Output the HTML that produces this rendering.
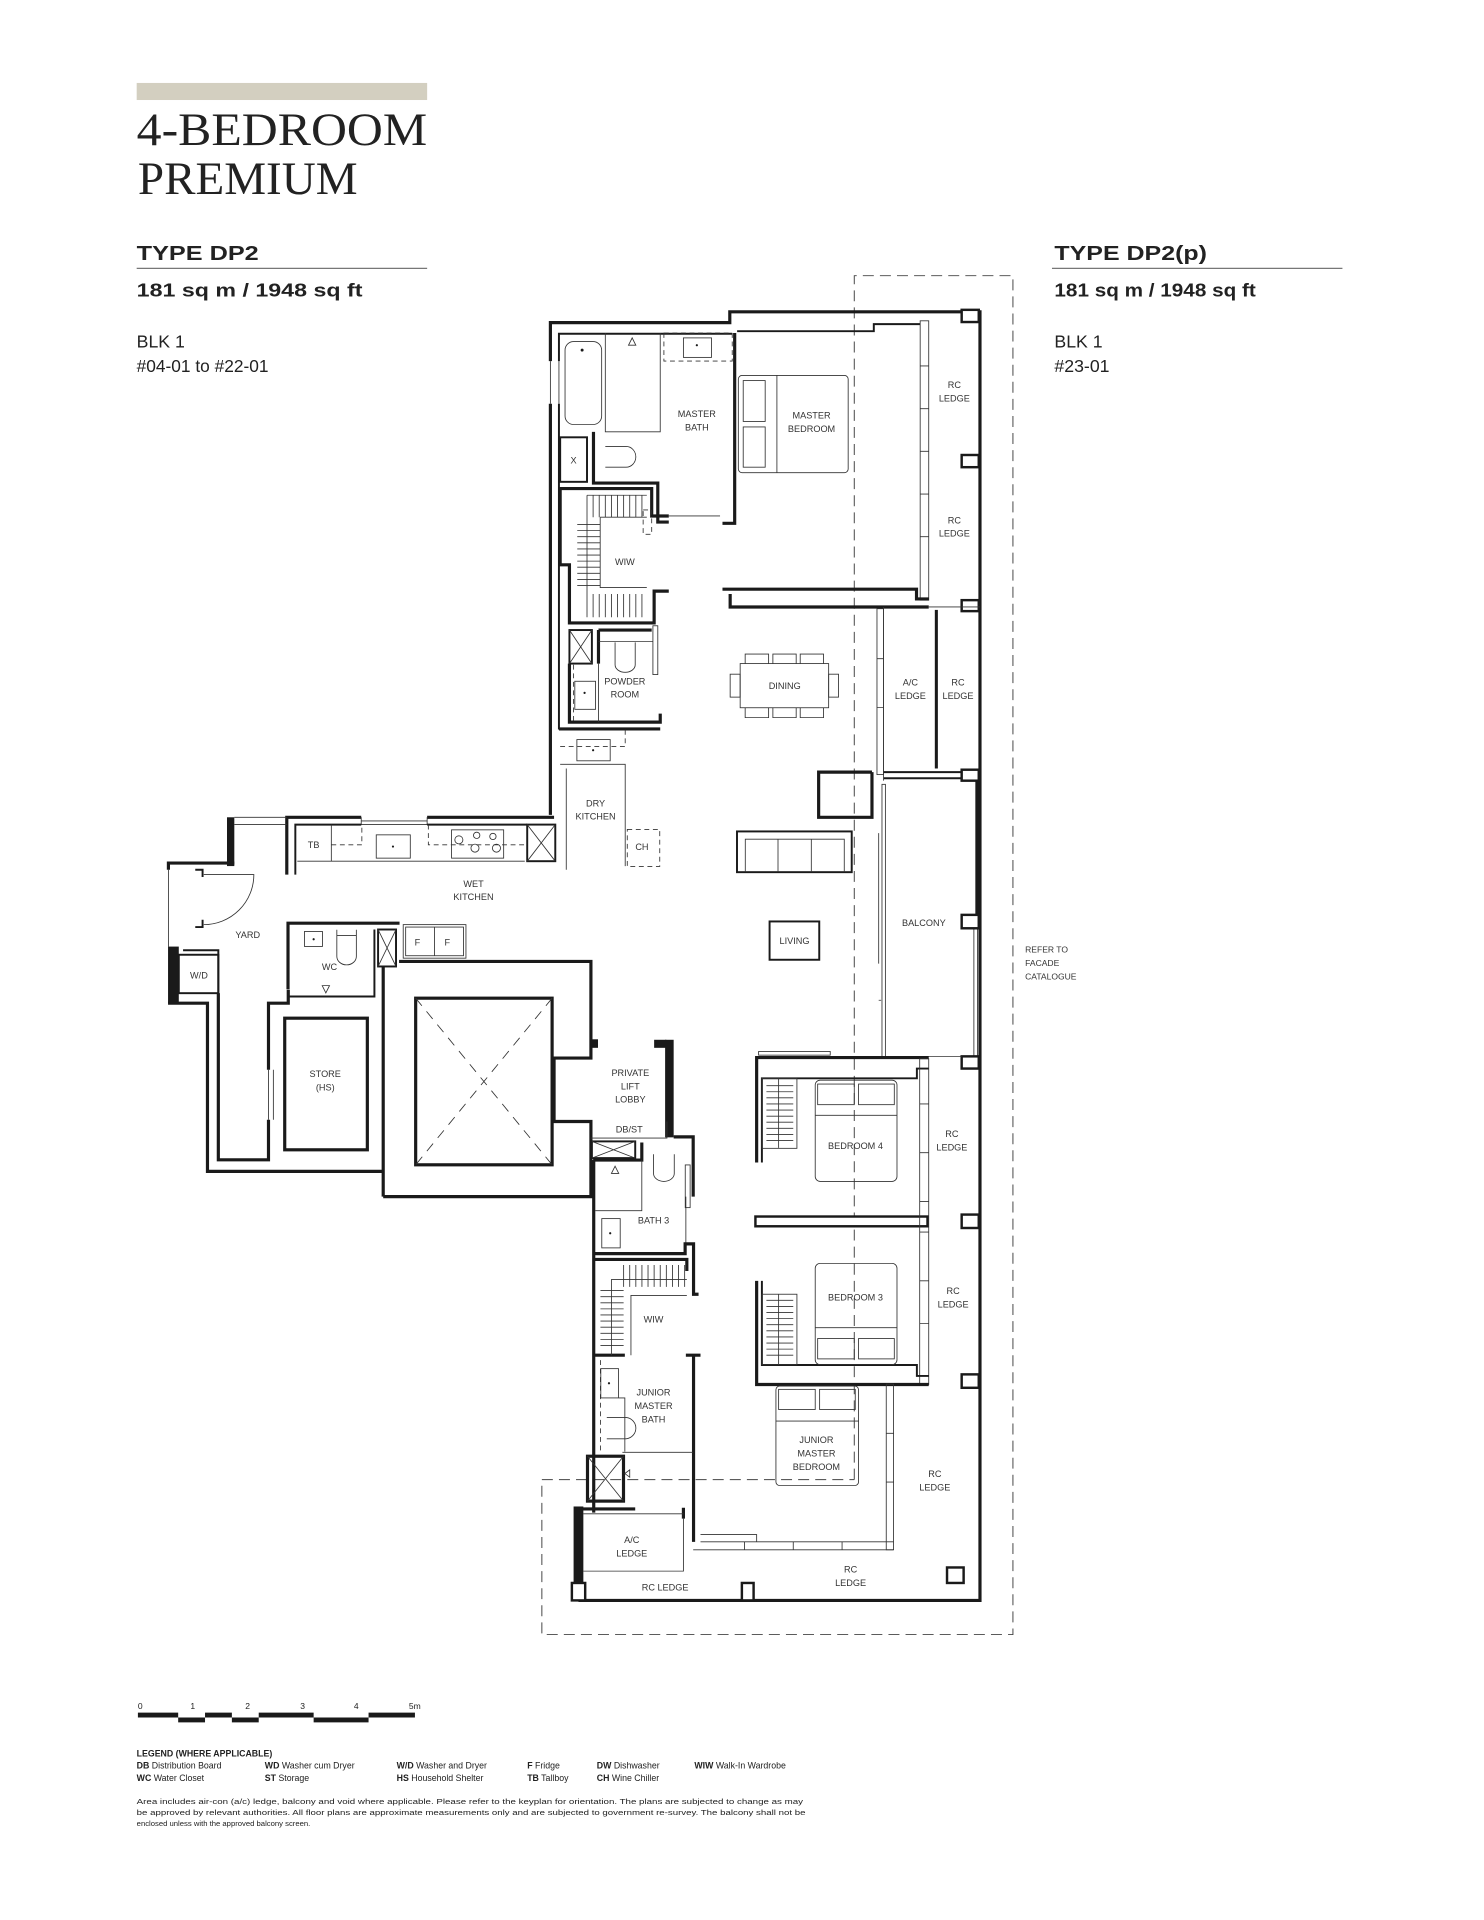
<!DOCTYPE html>
<html><head><meta charset="utf-8"><style>
html,body{margin:0;padding:0;background:#fff}
svg{display:block}
text{font-family:"Liberation Sans",sans-serif;fill:#222}
.w{fill:none;stroke:#1a1a1a;stroke-width:2.6}
.m{fill:none;stroke:#1a1a1a;stroke-width:1.6}
.t{fill:none;stroke:#333;stroke-width:0.7}
.d{fill:none;stroke:#333;stroke-width:0.7;stroke-dasharray:4 3}
.dd{fill:none;stroke:#444;stroke-width:0.8;stroke-dasharray:9 5}
.f{fill:#1a1a1a}
.wb{fill:#fff;stroke:#1a1a1a;stroke-width:2}
.l{font-size:7.5px;text-anchor:middle;fill:#333}
</style></head><body>
<svg width="1484" height="1920" viewBox="0 0 1216 1574" preserveAspectRatio="none" xmlns="http://www.w3.org/2000/svg">
<rect x="0" y="0" width="1216" height="1574" fill="#fff"/>
<!-- header -->
<rect x="112" y="68" width="238" height="14" fill="#d3cfc0"/>
<text x="112" y="119" style="font-family:'Liberation Serif',serif;font-size:38px;fill:#222" textLength="238" lengthAdjust="spacingAndGlyphs">4-BEDROOM</text>
<text x="113" y="159" style="font-family:'Liberation Serif',serif;font-size:38px;fill:#222" textLength="180" lengthAdjust="spacingAndGlyphs">PREMIUM</text>
<text x="112" y="213" style="font-size:17px;font-weight:bold" textLength="100" lengthAdjust="spacingAndGlyphs">TYPE DP2</text>
<line x1="112" y1="220" x2="350" y2="220" stroke="#777" stroke-width="1"/>
<text x="112" y="243" style="font-size:15px;font-weight:bold" textLength="185" lengthAdjust="spacingAndGlyphs">181 sq m / 1948 sq ft</text>
<text x="112" y="285" style="font-size:14.5px">BLK 1</text>
<text x="112" y="305" style="font-size:14.5px" textLength="108" lengthAdjust="spacingAndGlyphs">#04-01 to #22-01</text>
<text x="864" y="213" style="font-size:17px;font-weight:bold" textLength="125" lengthAdjust="spacingAndGlyphs">TYPE DP2(p)</text>
<line x1="862" y1="220" x2="1100" y2="220" stroke="#777" stroke-width="1"/>
<text x="864" y="243" style="font-size:15px;font-weight:bold" textLength="165" lengthAdjust="spacingAndGlyphs">181 sq m / 1948 sq ft</text>
<text x="864" y="285" style="font-size:14.5px">BLK 1</text>
<text x="864" y="305" style="font-size:14.5px">#23-01</text>

<!-- dashed outline -->
<path class="dd" d="M700 1213 V226 H830 V1340 H444 V1213 H700"/>

<!-- UPPER BLOCK outer -->
<path class="w" d="M451 296 V264.5 H598 V255.6 H803 V1312 H474"/>
<path class="w" d="M451 331 V668"/>
<path class="t" d="M451 296 V331 M458 296 V331"/>
<path class="m" d="M458 296 V273.6 H600 M458 331 V598"/>
<path class="m" d="M604 271.5 H716 V265.7 H754"/>
<rect x="788" y="254" width="14" height="10" class="wb"/>
<rect x="788" y="373" width="14" height="10" class="wb"/>
<rect x="788" y="492" width="14" height="9" class="wb"/>
<!-- window column -->
<rect x="754" y="263" width="7" height="229" class="t"/>
<path class="t" d="M754 300h7M754 335h7M754 370h7M754 405h7M754 440h7"/>
<text class="l" x="782" y="318">RC</text><text class="l" x="782" y="329">LEDGE</text>
<text class="l" x="782" y="429">RC</text><text class="l" x="782" y="440">LEDGE</text>

<!-- master bath -->
<rect x="463" y="280" width="30" height="68" rx="7" class="t"/>
<circle cx="477" cy="287" r="1.2" class="f"/>
<path class="t" d="M496 273 V354 H541 V273"/>
<path class="t" d="M515 283 l3 -6 l3 6 z"/>
<rect x="544" y="273" width="56" height="23" class="d"/>
<rect x="560" y="277" width="23" height="16" class="t"/>
<circle cx="571" cy="283" r="0.9" class="f"/>
<path class="t" d="M496 366 H513 a8 8.5 0 0 1 0 17 H496"/>
<rect x="459" y="358.5" width="22" height="36.5" class="m"/>
<text class="l" x="470" y="380">X</text>
<path class="w" d="M486.3 354 V396 H539 V428 H548"/>
<path class="t" d="M548 423 H590"/>
<path class="w" d="M602 273 V429 H592"/>
<text class="l" x="571" y="342">MASTER</text><text class="l" x="571" y="353">BATH</text>
<!-- master bed -->
<rect x="605" y="307.8" width="90" height="79.7" rx="3" class="t"/>
<rect x="609" y="312" width="18" height="33.5" class="t"/>
<rect x="609" y="350" width="18" height="33" class="t"/>
<path class="t" d="M636.6 307.8 V387.5"/>
<text class="l" x="665" y="343">MASTER</text><text class="l" x="665" y="354">BEDROOM</text>

<!-- WIW 1 -->
<path class="w" d="M548 423 H534 V400.5 H459 V463 H466.6 V510.7 H536 V484.6 H548"/>
<path class="t" d="M481 406 V506 M481 406 H530 M491.8 424 V481.7 H530 M491.8 424 H530"/>
<path class="t" d="M486 406v18M491 406v18M496 406v18M501 406v18M506 406v18M511 406v18M516 406v18M521 406v18M526 406v18M486 487v19M491 487v19M496 487v19M501 487v19M506 487v19M511 487v19M516 487v19M521 487v19M526 487v19M473 430h19M473 435h19M473 440h19M473 445h19M473 450h19M473 455h19M473 460h19M473 465h19M473 470h19M473 475h19M473 480h19"/>
<rect x="527" y="418" width="7" height="20" class="d"/>
<text class="l" x="512" y="463">WIW</text>

<!-- divider master bed / living -->
<path class="w" d="M592 483 H751 V491 H761"/>
<path class="w" d="M598.3 487 V497.6 H761"/>

<!-- powder room -->
<rect x="466.6" y="516.5" width="18.4" height="27.5" class="m"/>
<path class="t" d="M466.6 516.5 L485 544 M485 516.5 L466.6 544"/>
<path class="w" d="M466.6 544 V592 H541 V585 M490.4 516.5 H534 M490.4 516.5 V544"/>
<path class="t" d="M490.4 544 V592 M490.4 526 H535"/>
<rect x="535" y="513" width="4" height="40" class="t"/>
<path class="t" d="M504 526.6 V545 a8 6 0 0 0 16.5 0 V526.6"/>
<rect x="471" y="558.5" width="17" height="23" class="t"/><circle cx="479" cy="568" r="0.9" class="f"/>
<path class="d" d="M470 545 V592"/>
<text class="l" x="512" y="561">POWDER</text><text class="l" x="512" y="572">ROOM</text>

<!-- dining -->
<rect x="606.5" y="544" width="72.5" height="36.2" class="t"/>
<path class="t" d="M610.6 544 V536.2 H629.8 V544 M633.3 544 V536.2 H652.4 V544 M655.7 544 V536.2 H674.8 V544 M610.6 580.2 V588.3 H629.8 V580.2 M633.3 580.2 V588.3 H652.4 V580.2 M655.7 580.2 V588.3 H674.8 V580.2"/>
<rect x="598.3" y="552.7" width="8.2" height="18.8" class="t"/>
<rect x="679" y="552.7" width="8.1" height="18.8" class="t"/>
<text class="l" x="643" y="565">DINING</text>

<!-- A/C ledge RC ledge mid -->
<rect x="718.6" y="499" width="5.4" height="136" class="t"/>
<path class="t" d="M718.6 540h5.4M718.6 580h5.4 M724 497.6 V640 M761 497.6 H803"/>
<rect x="766" y="500" width="2.5" height="130" class="f"/>
<text class="l" x="746" y="562">A/C</text><text class="l" x="746" y="573">LEDGE</text>
<text class="l" x="785" y="562">RC</text><text class="l" x="785" y="573">LEDGE</text>
<path class="m" d="M724 633 H803 M724 638 H790"/>
<rect x="788" y="631" width="14" height="9" class="wb"/>
<path class="w" d="M714.5 633 H670.8 V670 H714.5 V633"/>

<!-- dry kitchen -->
<path class="w" d="M458 597.6 H541"/>
<rect x="472.7" y="606.3" width="27.3" height="17.4" class="t"/><circle cx="486" cy="615" r="0.9" class="f"/>
<path class="d" d="M459 612 H512.3 V598"/>
<path class="t" d="M459 626.6 H512.3 V710 M464 630 V713"/>
<rect x="514" y="680" width="26.6" height="30.3" class="d"/>
<text class="l" x="526" y="697">CH</text>
<text class="l" x="488" y="661">DRY</text><text class="l" x="488" y="672">KITCHEN</text>

<!-- living / balcony -->
<rect x="603.9" y="681.6" width="94" height="33.4" class="m"/>
<path class="t" d="M610.7 715 V688 H691.8 V715 M637.5 688 V715 M664.8 688 V715"/>
<rect x="630.6" y="755.4" width="40.7" height="31.4" class="m"/>
<text class="l" x="651" y="774">LIVING</text>
<rect x="722.7" y="643" width="2.8" height="224" class="t"/>
<path class="t" d="M720 683 V790 M720 820 H722"/>
<path class="w" d="M800.5 640 V750"/>
<path class="t" d="M798 761 V866 M801 761 V866"/>
<rect x="788" y="750" width="14" height="11" class="wb"/>
<rect x="788" y="866" width="14" height="10" class="wb"/>
<path class="t" d="M725 866 H788"/>
<text class="l" x="757" y="759">BALCONY</text>
<text x="840" y="781" style="font-size:7px;fill:#333">REFER TO</text>
<text x="840" y="792" style="font-size:7px;fill:#333">FACADE</text>
<text x="840" y="803" style="font-size:7px;fill:#333">CATALOGUE</text>

<!-- KITCHEN -->
<path class="w" d="M235 717 V670 H296 M350 670 H454"/>
<path class="t" d="M296 670 V676 H350 V670 M296 673 H350"/>
<path class="m" d="M242 717 V676 H296 M350 676 H432"/>
<rect x="432" y="676" width="23" height="30" class="m"/>
<path class="t" d="M432 676 L455 706 M455 676 L432 706"/>
<path class="t" d="M243.6 706 H430 M271.5 676 V706"/>
<path class="d" d="M271.5 692.6 H296.5 V676 M351 676 V692.6 H430"/>
<rect x="308.3" y="684.4" width="27.9" height="19.1" class="t"/><circle cx="322" cy="694" r="0.9" class="f"/>
<rect x="370" y="680.3" width="42.7" height="23.2" class="t"/>
<circle cx="376" cy="688.5" r="3.3" class="t"/><circle cx="390.6" cy="684.8" r="2.6" class="t"/><circle cx="403.9" cy="685.7" r="2.6" class="t"/><circle cx="389.2" cy="695.3" r="3.3" class="t"/><circle cx="406.8" cy="695.3" r="3.3" class="t"/>
<text class="l" x="257" y="695">TB</text>
<text class="l" x="388" y="727">WET</text><text class="l" x="388" y="738">KITCHEN</text>

<!-- YARD -->
<rect x="186" y="670" width="6" height="40" class="f"/>
<path class="w" d="M192 707.5 H138 V713"/>
<path class="t" d="M192 670 H235 M192 676 H235"/>
<path class="t" d="M138 713 V776"/>
<path class="t" d="M167 717 H208 A41 41 0 0 1 167 758"/>
<path class="m" d="M160 713 h6 v6 M160 760 h6 v-6"/>
<rect x="137.7" y="776" width="8.8" height="46.4" class="f"/>
<rect x="146.5" y="782.7" width="32.4" height="31.5" class="m"/>
<path class="m" d="M150 779 H178.9 V814.2"/>
<text class="l" x="163" y="802">W/D</text>
<text class="l" x="203" y="769">YARD</text>
<path class="w" d="M137.7 822.4 H170 V960.3 H314"/>
<path class="w" d="M178.9 814.2 V950.8 H220 V918 M220 877 V822.4 H236.2 V811.4"/>
<path class="t" d="M220 877 V918 M224 877 V918"/>
<!-- WC -->
<path class="w" d="M236 811 V756.8 H327.4"/>
<path class="m" d="M236.2 816.9 H306.8 V762"/>
<rect x="249.5" y="763.6" width="14.7" height="12.3" class="t"/><circle cx="257" cy="770" r="0.9" class="f"/>
<path class="t" d="M276 762.2 V784 a8 7 0 0 0 16 0 V762.2 M276 767 H292"/>
<path class="t" d="M264 808 l3 6 l3 -6 z"/>
<text class="l" x="270" y="795">WC</text>
<rect x="309.8" y="762" width="14.7" height="30.3" class="m"/>
<path class="t" d="M309.8 762 L324.5 792.3 M324.5 762 L309.8 792.3"/>
<rect x="330.4" y="758" width="51.4" height="27.5" class="t"/>
<rect x="332.4" y="760" width="47.4" height="23.5" class="t"/>
<path class="t" d="M356 760 V783.5"/>
<text class="l" x="342" y="775">F</text><text class="l" x="366.5" y="775">F</text>
<!-- store -->
<rect x="233.3" y="834.7" width="67.7" height="107.9" class="w"/>
<text class="l" x="266.5" y="883">STORE</text><text class="l" x="266.5" y="894">(HS)</text>

<!-- CORE -->
<path class="w" d="M314 981 V792 M327 788.2 H484.2 V867.4 H454 V919.4 H484.2 V981 H314"/>
<rect x="484" y="852" width="6" height="7" class="f"/>
<rect x="340.6" y="818.3" width="111.8" height="136.6" class="w"/>
<path class="d" d="M340.6 818.3 L452.4 954.9 M452.4 818.3 L340.6 954.9" style="stroke-dasharray:8 6"/>
<!-- lobby -->
<rect x="545" y="852.4" width="7" height="80" class="f"/>
<rect x="536" y="852.4" width="10" height="6.6" class="f"/>
<path class="t" d="M484 933 H546.5 V919.4"/>
<text class="l" x="516.5" y="882">PRIVATE</text><text class="l" x="516.5" y="893">LIFT</text><text class="l" x="516.5" y="904">LOBBY</text>
<text class="l" x="515.6" y="928.5">DB/ST</text>

<!-- BATH 3 -->
<rect x="485" y="935.7" width="35.5" height="13.7" class="m"/>
<path class="t" d="M485 935.7 L520.5 949.4 M520.5 935.7 L485 949.4"/>
<path class="w" d="M552 932 H568 V981 M525.9 936.6 V951 H486 M486.5 951 V1240"/>
<path class="t" d="M525.9 951 V992.5 H487.7"/>
<rect x="561.5" y="955" width="4" height="35" class="t"/>
<path class="t" d="M535.5 946.2 V962 a8.5 6.5 0 0 0 17 0 V946.2"/>
<rect x="493.1" y="999" width="15.1" height="24" class="t"/><circle cx="500" cy="1011" r="0.9" class="f"/>
<path class="t" d="M501 962 l3 -6 l3 6 z"/>
<path class="t" d="M562 981 V1020"/>
<text class="l" x="535.5" y="1003">BATH 3</text>
<path class="w" d="M486.5 1027.7 H561.4 V1019.7 H568.3 V1061 H572.4"/>
<!-- WIW 2 -->
<path class="w" d="M486.5 1032.5 H562.8 V1042 M486.5 1111 H512 M562 1111 H574"/>
<path class="t" d="M501 1111 V1049 H562.8 M517 1111 V1062 H562.8"/>
<path class="t" d="M511 1037v18M516 1037v18M521 1037v18M526 1037v18M531 1037v18M536 1037v18M541 1037v18M546 1037v18M551 1037v18M556 1037v18M561 1037v18M492 1058h19M492 1063h19M492 1068h19M492 1073h19M492 1078h19M492 1083h19M492 1088h19M492 1093h19M492 1098h19M492 1103h19"/>
<text class="l" x="535.5" y="1084">WIW</text>
<!-- JMB bath -->
<path class="w" d="M568.3 1111 V1264"/>
<rect x="492.3" y="1122" width="14.5" height="24" class="t"/><circle cx="499" cy="1134" r="0.9" class="f"/>
<path class="d" d="M492 1115 V1190"/>
<path class="t" d="M507 1146 H512 V1190 M497.2 1162 H513 a9 8.8 0 0 1 0 17.5 H497.2 M510 1190.6 H568"/>
<text class="l" x="535.5" y="1144">JUNIOR</text><text class="l" x="535.5" y="1155">MASTER</text><text class="l" x="535.5" y="1166">BATH</text>
<rect x="481.4" y="1193.8" width="29.5" height="36.8" class="w"/>
<path class="t" d="M481.4 1193.8 L510.9 1230.6 M510.9 1193.8 L481.4 1230.6 M516 1205 l-4 3 l4 3 z"/>
<path class="w" d="M476.8 1237 H520.5 M560 1236 V1245"/>
<path class="t" d="M478 1241 H560 M478 1288 H560 V1245"/>
<text class="l" x="517.7" y="1265">A/C</text><text class="l" x="517.7" y="1276">LEDGE</text>
<rect x="470" y="1235" width="8" height="77" class="f"/>
<rect x="468.6" y="1297.7" width="10.9" height="14.3" class="wb"/>
<rect x="607.9" y="1297.7" width="9.6" height="14.3" class="wb"/>
<rect x="776" y="1285" width="13.6" height="12.7" class="wb"/>
<text class="l" x="545" y="1304">RC LEDGE</text>
<text class="l" x="697" y="1289">RC</text><text class="l" x="697" y="1300">LEDGE</text>
<text class="l" x="766" y="1211">RC</text><text class="l" x="766" y="1222">LEDGE</text>

<!-- BEDROOM 4 -->
<rect x="621.6" y="862" width="58.7" height="3" class="t"/>
<path class="w" d="M620 953 V867 H761"/>
<path class="m" d="M624.3 953 V884 H751.3 V876 H761"/>
<rect x="624.3" y="884" width="28.7" height="57.4" class="t"/>
<path class="t" d="M638 884 V941 M628 890h22M628 895h22M628 900h22M628 905h22M628 910h22M628 915h22M628 920h22M628 925h22M628 930h22M628 935h22"/>
<rect x="668" y="885.5" width="67" height="83" rx="4" class="t"/>
<rect x="670" y="888.7" width="30" height="16.9" class="t"/><rect x="703.5" y="888.7" width="29.3" height="16.9" class="t"/>
<path class="t" d="M668 914.3 H735"/>
<text class="l" x="701" y="942">BEDROOM 4</text>
<rect x="619" y="997.3" width="141" height="8" class="wb"/>
<rect x="753.6" y="868" width="7.4" height="267" class="t"/>
<path class="t" d="M753.6 905h7.4M753.6 945h7.4M753.6 985h7.4M753.6 1010h7.4M753.6 1050h7.4M753.6 1085h7.4"/>
<rect x="788" y="995.7" width="14" height="11" class="wb"/>
<rect x="788" y="1126.7" width="14" height="11" class="wb"/>
<text class="l" x="780" y="932">RC</text><text class="l" x="780" y="943">LEDGE</text>
<text class="l" x="781" y="1061">RC</text><text class="l" x="781" y="1072">LEDGE</text>
<!-- BEDROOM 3 -->
<path class="w" d="M620 1050 V1135 H761"/>
<path class="m" d="M624.3 1050 V1119 H751.3 V1128 H761"/>
<rect x="624.3" y="1061" width="28.7" height="57.8" class="t"/>
<path class="t" d="M638 1061 V1119 M628 1066h22M628 1071h22M628 1076h22M628 1081h22M628 1086h22M628 1091h22M628 1096h22M628 1101h22M628 1106h22M628 1111h22"/>
<rect x="668" y="1035.7" width="67" height="83" rx="4" class="t"/>
<rect x="670" y="1097.3" width="30" height="16.7" class="t"/><rect x="703.5" y="1097.3" width="29.3" height="16.7" class="t"/>
<path class="t" d="M668 1088.4 H735"/>
<text class="l" x="701" y="1066">BEDROOM 3</text>
<!-- JMB -->
<rect x="635.8" y="1136.3" width="67.7" height="81.5" rx="3" class="t"/>
<rect x="638" y="1139" width="30" height="16.5" class="t"/><rect x="671.6" y="1139" width="29.2" height="16.5" class="t"/>
<path class="t" d="M635.8 1165 H703.5"/>
<text class="l" x="669" y="1183">JUNIOR</text><text class="l" x="669" y="1194">MASTER</text><text class="l" x="669" y="1205">BEDROOM</text>
<rect x="726.2" y="1134.7" width="6" height="135.8" class="t"/>
<path class="t" d="M726.2 1175h6M726.2 1215h6"/>
<path class="t" d="M574 1264 H732 M568 1270.5 H732 M610 1264 V1270.5 M650 1264 V1270.5 M690 1264 V1270.5 M574 1258 H620 V1264"/>

<!-- scale bar -->
<g style="font-size:7px;fill:#333">
<text x="113" y="1401">0</text><text x="156" y="1401">1</text><text x="201" y="1401">2</text><text x="246" y="1401">3</text><text x="290" y="1401">4</text><text x="335" y="1401">5m</text>
</g>
<path d="M113 1406 H146 M146 1410 H168 M168 1406 H190 M190 1410 H212 M212 1406 H257 M257 1410 H302 M302 1406 H340" stroke="#1a1a1a" stroke-width="4" fill="none"/>
<g style="font-size:7.2px;fill:#333">
<text x="112" y="1440" style="font-weight:bold">LEGEND (WHERE APPLICABLE)</text>
<text x="112" y="1450"><tspan style="font-weight:bold">DB</tspan>  Distribution Board</text>
<text x="217" y="1450"><tspan style="font-weight:bold">WD</tspan>  Washer cum Dryer</text>
<text x="325" y="1450"><tspan style="font-weight:bold">W/D</tspan>  Washer and Dryer</text>
<text x="432" y="1450"><tspan style="font-weight:bold">F</tspan>  Fridge</text>
<text x="489" y="1450"><tspan style="font-weight:bold">DW</tspan>  Dishwasher</text>
<text x="569" y="1450"><tspan style="font-weight:bold">WIW</tspan>  Walk-In Wardrobe</text>
<text x="112" y="1460"><tspan style="font-weight:bold">WC</tspan>  Water Closet</text>
<text x="217" y="1460"><tspan style="font-weight:bold">ST</tspan>  Storage</text>
<text x="325" y="1460"><tspan style="font-weight:bold">HS</tspan>  Household Shelter</text>
<text x="432" y="1460"><tspan style="font-weight:bold">TB</tspan> Tallboy</text>
<text x="489" y="1460"><tspan style="font-weight:bold">CH</tspan>  Wine Chiller</text>
</g>
<g style="font-size:6.3px;fill:#444">
<text x="112" y="1479" textLength="546" lengthAdjust="spacingAndGlyphs">Area includes air-con (a/c) ledge, balcony and void where applicable. Please refer to the keyplan for orientation. The plans are subjected to change as may</text>
<text x="112" y="1488" textLength="548" lengthAdjust="spacingAndGlyphs">be approved by relevant authorities. All floor plans are approximate measurements only and are subjected to government re-survey. The balcony shall not be</text>
<text x="112" y="1497">enclosed unless with the approved balcony screen.</text>
</g>
</svg>
</body></html>
